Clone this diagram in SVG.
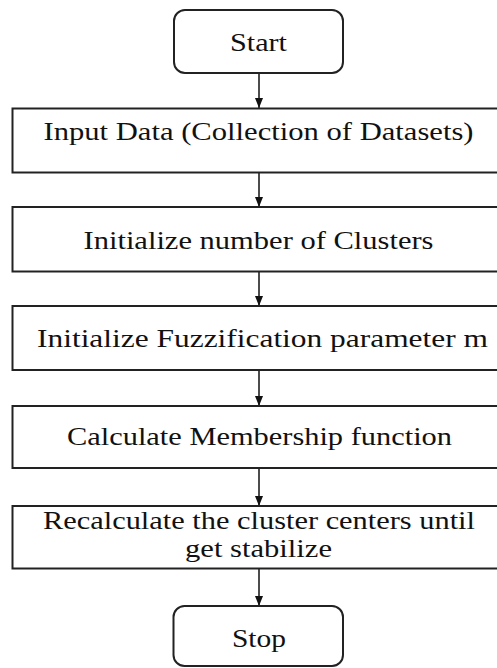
<svg xmlns="http://www.w3.org/2000/svg" width="497" height="668" viewBox="0 0 497 668">
<style>
.box{fill:#fff;stroke:#222;stroke-width:2}
.t{font-family:'Liberation Serif','Times New Roman','DejaVu Serif',serif;font-size:24.5px;fill:#111;text-anchor:middle}
.c{stroke:#111;stroke-width:1.5;fill:none}
</style>
<defs>
<marker id="a" markerUnits="userSpaceOnUse" markerWidth="10" markerHeight="8" refX="10" refY="4" orient="auto" viewBox="0 0 10 8">
<path d="M0,0 L10,4 L0,8 z" fill="#111"/>
</marker>
</defs>
<rect width="497" height="668" fill="#fff"/>
<g id="connectors">
<line class="c" x1="259" y1="73" x2="259" y2="108" marker-end="url(#a)"/>
<line class="c" x1="259" y1="172.5" x2="259" y2="207" marker-end="url(#a)"/>
<line class="c" x1="259" y1="271.5" x2="259" y2="306" marker-end="url(#a)"/>
<line class="c" x1="259" y1="370" x2="259" y2="406" marker-end="url(#a)"/>
<line class="c" x1="259" y1="468" x2="259" y2="506" marker-end="url(#a)"/>
<line class="c" x1="259" y1="568" x2="259" y2="606" marker-end="url(#a)"/>
</g>
<g id="start">
<rect class="box" x="174" y="10" width="169" height="63" rx="11"/>
<text class="t" x="258.5" y="50.5" textLength="57" lengthAdjust="spacingAndGlyphs">Start</text>
</g>
<g id="input">
<rect class="box" x="12.5" y="108.5" width="494" height="64"/>
<text class="t" x="258.5" y="140" textLength="430" lengthAdjust="spacingAndGlyphs">Input Data (Collection of Datasets)</text>
</g>
<g id="clusters">
<rect class="box" x="12.5" y="207" width="494" height="64.5"/>
<text class="t" x="258.5" y="249" textLength="350" lengthAdjust="spacingAndGlyphs">Initialize number of Clusters</text>
</g>
<g id="fuzz">
<rect class="box" x="12.5" y="306" width="494" height="64"/>
<text class="t" x="262.5" y="347" textLength="451" lengthAdjust="spacingAndGlyphs">Initialize Fuzzification parameter m</text>
</g>
<g id="membership">
<rect class="box" x="12.5" y="406" width="494" height="62"/>
<text class="t" x="259.5" y="445" textLength="385" lengthAdjust="spacingAndGlyphs">Calculate Membership function</text>
</g>
<g id="recalc">
<rect class="box" x="12.5" y="506" width="494" height="62.5"/>
<text class="t" x="259" y="529" textLength="432" lengthAdjust="spacingAndGlyphs">Recalculate the cluster centers until</text>
<text class="t" x="258.5" y="557" textLength="147" lengthAdjust="spacingAndGlyphs">get stabilize</text>
</g>
<g id="stop">
<rect class="box" x="173.5" y="606" width="169.5" height="60" rx="11"/>
<text class="t" x="259" y="647" textLength="54" lengthAdjust="spacingAndGlyphs">Stop</text>
</g>
</svg>
